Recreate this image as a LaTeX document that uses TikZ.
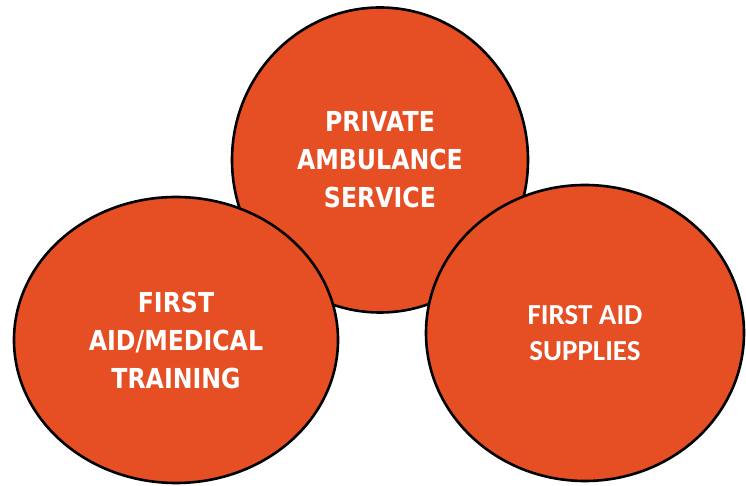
\documentclass[tikz,border=0pt]{standalone}
\usepackage{fontspec}
\usetikzlibrary{shapes.geometric}
\newfontfamily\bubblefont[FakeStretch=0.86]{DejaVu Sans}
\newfontfamily\supplyfont{Carlito}
\definecolor{bubbleorange}{RGB}{230,78,36}
\begin{document}
\begin{tikzpicture}[x=1pt,y=1pt,line join=round,
    bubble/.style={ellipse,draw=black,line width=2.6pt,fill=bubbleorange,
      text=white,align=center,inner sep=0pt,font=\bubblefont\bfseries\fontsize{27.5}{38}\selectfont}]
            \useasboundingbox (0,0) rectangle (746,486);
            \node[bubble,minimum width=296,minimum height=305] (ambulance) at (380,326)
            {PRIVATE\\AMBULANCE\\SERVICE};
            \node[bubble,minimum width=324,minimum height=286] (training) at (176,146)
            {FIRST\\AID/MEDICAL\\TRAINING};
            %right one is set in another face
            \node[bubble,minimum width=318,minimum height=296,
              font=\supplyfont\bfseries\fontsize{29}{36}\selectfont] (supplies) at (585,153)
            {FIRST AID\\SUPPLIES};
        \end{tikzpicture}
\end{document}
